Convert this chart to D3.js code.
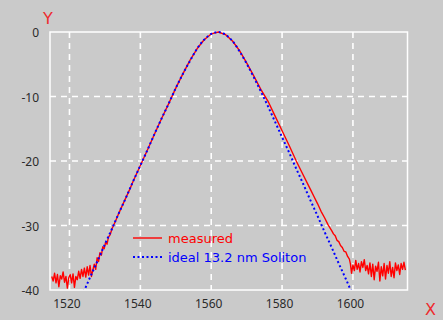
<!DOCTYPE html>
<html>
<head>
<meta charset="utf-8">
<script src="https://cdn.jsdelivr.net/npm/d3@7"></script>
<style>
  html, body { margin: 0; padding: 0; background: #cacaca; }
</style>
</head>
<body>
<div id="chart"></div>
<script>
// wavelength (nm) and power (dB)
const measuredWl = [
  1515.0, 1515.4, 1515.8, 1516.2, 1516.6, 1517.0, 1517.4, 1517.8, 1518.2, 1518.6,
  1519.0, 1519.4, 1519.8, 1520.2, 1520.6, 1521.0, 1521.4, 1521.8, 1522.2, 1522.6,
  1523.0, 1523.4, 1523.8, 1524.2, 1524.6, 1525.0, 1525.4, 1525.8, 1526.2, 1526.6,
  1527.0, 1527.4, 1527.8, 1528.2, 1528.6, 1529.0, 1529.4, 1529.8, 1530.2, 1530.6,
  1531.0, 1531.5, 1532.0, 1533, 1534, 1535, 1536, 1537, 1538, 1539,
  1540, 1542, 1544, 1546, 1548, 1550, 1552, 1554, 1556, 1558,
  1560, 1562, 1564, 1566, 1568, 1570, 1572, 1574, 1576, 1578,
  1580, 1582, 1584, 1586, 1588, 1589, 1590, 1591, 1592, 1593,
  1594, 1594.5, 1595, 1595.5, 1596, 1596.5, 1597, 1597.5, 1598, 1598.5,
  1599, 1599.3,
  1599.6, 1600.0, 1600.4, 1600.8, 1601.2, 1601.6, 1602.0, 1602.4, 1602.8, 1603.2,
  1603.6, 1604.0, 1604.4, 1604.8, 1605.2, 1605.6, 1606.0, 1606.4, 1606.8, 1607.2,
  1607.6, 1608.0, 1608.4, 1608.8, 1609.2, 1609.6, 1610.0, 1610.4, 1610.8, 1611.2,
  1611.6, 1612.0, 1612.4, 1612.8, 1613.2, 1613.6, 1614.0, 1614.4, 1614.8
];
const measuredDb = [
  -37.9, -38.6, -37.4, -38.9, -37.6, -39.5, -37.8, -38.3, -37.2, -38.8,
  -37.9, -39.7, -38.1, -37.6, -38.9, -37.5, -39.6, -37.9, -38.4, -37.1,
  -38.2, -36.8, -37.9, -36.6, -38.0, -36.4, -37.7, -36.2, -37.9, -36.9,
  -36.0, -36.8, -35.0, -35.6, -34.2, -34.6, -33.3, -33.6, -32.6, -32.9,
  -31.8, -31.4, -30.5, -29.3, -28.0, -26.8, -25.6, -24.4, -23.1, -21.9,
  -20.7, -18.3, -15.8, -13.4, -11.1, -8.7, -6.5, -4.4, -2.6, -1.2,
  -0.3, 0, -0.4, -1.4, -2.9, -4.8, -6.8, -8.9, -10.7, -13.0,
  -15.3, -17.6, -20.0, -22.2, -24.4, -25.5, -26.6, -27.8, -28.8, -29.9,
  -30.8, -31.3, -31.6, -32.3, -32.5, -33.1, -33.4, -34.0, -34.1, -34.8,
  -35.2, -36.0,
  -37.4, -36.1, -37.0, -35.4, -36.8, -35.9, -37.2, -35.6, -36.5, -35.3,
  -37.0, -36.2, -37.5, -35.8, -37.9, -36.0, -38.4, -36.3, -37.1, -35.7,
  -38.6, -36.4, -37.8, -35.9, -38.3, -36.2, -37.4, -35.6, -37.9, -36.5,
  -38.1, -35.8, -37.0, -36.1, -37.6, -35.9, -36.8, -35.7, -36.9
];

const idealWl = [
  1524, 1526, 1528, 1530, 1532, 1534, 1536, 1538, 1540, 1542,
  1544, 1546, 1548, 1550, 1552, 1554, 1556, 1558, 1560, 1562,
  1564, 1566, 1568, 1570, 1572, 1574, 1576, 1578, 1580, 1582,
  1584, 1586, 1588, 1590, 1592, 1594, 1596, 1598, 1600
];
const idealDb = [
  -40.3, -37.8, -35.4, -32.9, -30.5, -28.0, -25.6, -23.1, -20.7, -18.3,
  -15.8, -13.4, -11.1, -8.7, -6.5, -4.5, -2.6, -1.2, -0.3, 0,
  -0.4, -1.4, -3.0, -4.9, -7.0, -9.2, -11.5, -13.9, -16.3, -18.7,
  -21.2, -23.6, -26.1, -28.5, -31.0, -33.4, -35.9, -38.3, -40.8
];

const xTicks = [1520, 1540, 1560, 1580, 1600];
const yTicks = [-40, -30, -20, -10, 0];
const legendLabels = ['measured', 'ideal 13.2 nm Soliton'];

const width = 443;
const height = 320;
const plot = { left: 50, top: 32, right: 407.5, bottom: 290 };

const svg = d3.select('#chart')
  .append('svg')
  .attr('width', width)
  .attr('height', height)
  .style('font-family', 'DejaVu Sans, sans-serif');

svg.append('rect')
  .attr('width', width)
  .attr('height', height)
  .attr('fill', '#cacaca');

const x = d3.scaleLinear().domain([1514.5, 1615.4]).range([plot.left, plot.right]);
const y = d3.scaleLinear().domain([-40, 0]).range([plot.bottom, plot.top]);

// grid
const grid = svg.append('g')
  .attr('stroke', '#fff')
  .attr('stroke-width', 1.6)
  .attr('stroke-dasharray', '6,5');

grid.selectAll('line.v')
  .data(xTicks)
  .join('line')
  .attr('class', 'v')
  .attr('x1', d => x(d))
  .attr('x2', d => x(d))
  .attr('y1', plot.top)
  .attr('y2', plot.bottom);

grid.selectAll('line.h')
  .data(yTicks.filter(d => d > -40 && d < 0))
  .join('line')
  .attr('class', 'h')
  .attr('x1', plot.left)
  .attr('x2', plot.right)
  .attr('y1', d => y(d))
  .attr('y2', d => y(d));

// frame
svg.append('rect')
  .attr('x', plot.left)
  .attr('y', plot.top)
  .attr('width', plot.right - plot.left)
  .attr('height', plot.bottom - plot.top)
  .attr('fill', 'none')
  .attr('stroke', '#fff')
  .attr('stroke-width', 1.5);

// axes (labels only), plain hyphen for the minus sign
const fmt = d => String(d);

const xAxis = svg.append('g')
  .attr('transform', `translate(-3,${plot.bottom + 6})`)
  .call(d3.axisBottom(x).tickValues(xTicks).tickSize(0).tickFormat(fmt));
xAxis.select('.domain').remove();

const yAxis = svg.append('g')
  .attr('transform', `translate(${plot.left - 8},1)`)
  .call(d3.axisLeft(y).tickValues(yTicks).tickSize(0).tickFormat(fmt));
yAxis.select('.domain').remove();

svg.selectAll('.tick text')
  .attr('fill', '#2a2a2a')
  .style('font-family', 'Noto Sans, sans-serif')
  .style('font-size', '12px');

// curves
svg.append('clipPath')
  .attr('id', 'clip')
  .append('rect')
  .attr('x', plot.left)
  .attr('y', plot.top - 2)
  .attr('width', plot.right - plot.left)
  .attr('height', plot.bottom - plot.top + 2);

const line = d3.line()
  .x(d => x(d[0]))
  .y(d => y(d[1]));

const idealLine = d3.line()
  .x(d => x(d[0]))
  .y(d => y(d[1]))
  .curve(d3.curveMonotoneX);

svg.append('path')
  .datum(d3.zip(measuredWl, measuredDb))
  .attr('clip-path', 'url(#clip)')
  .attr('fill', 'none')
  .attr('stroke', '#ff0000')
  .attr('stroke-width', 1.4)
  .attr('stroke-linejoin', 'round')
  .attr('d', line);

svg.append('path')
  .datum(d3.zip(idealWl, idealDb))
  .attr('clip-path', 'url(#clip)')
  .attr('fill', 'none')
  .attr('stroke', '#0000ff')
  .attr('stroke-width', 2)
  .attr('stroke-dasharray', '2,2.5')
  .attr('d', idealLine);

// legend
const legend = svg.append('g').attr('transform', 'translate(133,238)');
const legendColors = ['#ff0000', '#0000ff'];
const legendDash = [null, '2,2.5'];

legendLabels.forEach((label, i) => {
  const row = legend.append('g').attr('transform', `translate(0,${i * 19})`);
  row.append('line')
    .attr('x1', 0)
    .attr('x2', 29)
    .attr('stroke', legendColors[i])
    .attr('stroke-width', i === 0 ? 1.4 : 2)
    .attr('stroke-dasharray', legendDash[i]);
  row.append('text')
    .attr('x', 35)
    .attr('y', 4.5)
    .attr('fill', legendColors[i])
    .style('font-size', '13px')
    .text(label);
});

// axis names
svg.append('text')
  .attr('x', 43)
  .attr('y', 24)
  .attr('fill', '#ee2a2e')
  .style('font-size', '16px')
  .text('Y');

svg.append('text')
  .attr('x', 425)
  .attr('y', 315)
  .attr('fill', '#ee2a2e')
  .style('font-size', '16px')
  .text('X');
</script>
</body>
</html>
